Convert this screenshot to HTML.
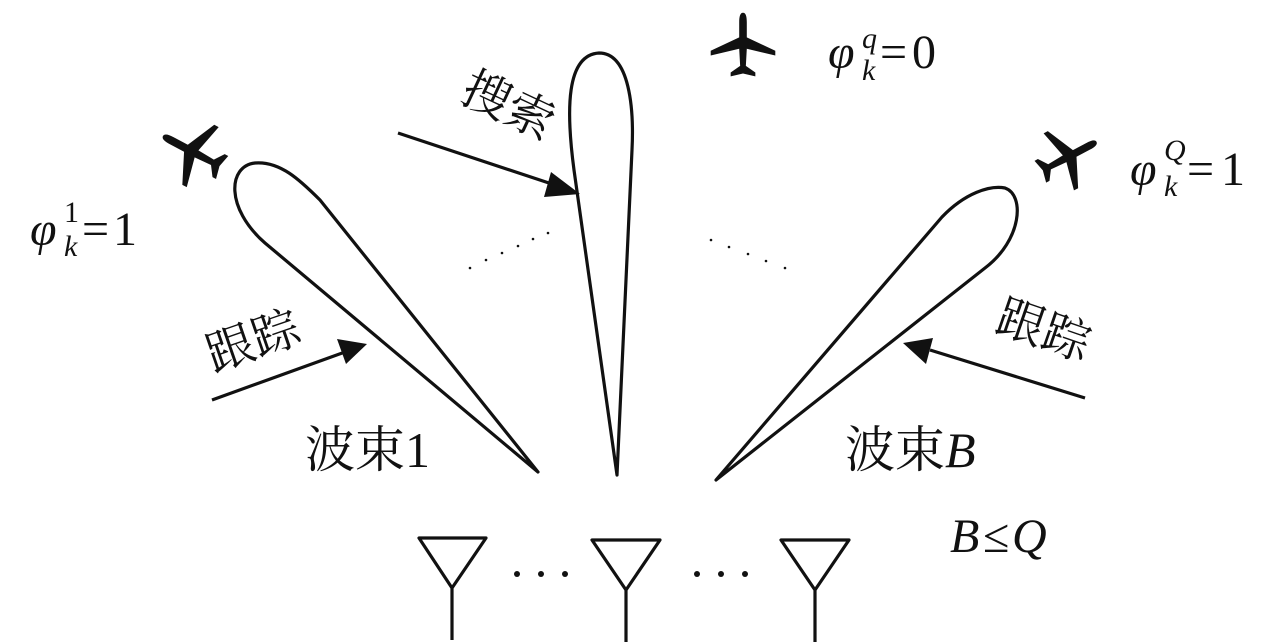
<!DOCTYPE html>
<html><head><meta charset="utf-8"><style>
body{margin:0;background:#fff;width:1280px;height:644px;overflow:hidden}
svg{display:block}
text{font-family:"Liberation Serif","Noto Serif CJK SC",serif;fill:#111}
.cj{font-family:"Liberation Serif","Noto Serif CJK SC","Noto Sans CJK SC",serif}
</style></head><body>
<svg width="1280" height="644" viewBox="0 0 1280 644" xmlns="http://www.w3.org/2000/svg">
<defs>
<g id="plane">
<path d="M0,-34 C3,-34 4,-30 4,-24 L4,-8 L34,6 L34,11 L4,4 L3,22 L13,29 L13,33 L0,30 L-13,33 L-13,29 L-3,22 L-4,4 L-34,11 L-34,6 L-4,-8 L-4,-24 C-4,-30 -3,-34 0,-34 Z" fill="#111"/>
</g>
</defs>
<g fill="none" stroke="#111" stroke-width="3.2" stroke-linejoin="round">
<path d="M538,472 L265,243 C225,208 228,166 255,163 C280,161 300,180 320,200 Z"/>
<path d="M617,475 L574,170 C566,110 566,55 599,53 C630,53 634,110 632,150 Z"/>
<path d="M716,480 L942,217 C965,193 990,185 1005,188 C1025,195 1022,240 985,268 Z"/>
<path d="M419,538 L486,538 L452,588 Z M452,588 L452,640"/>
<path d="M592,540 L660,540 L626,590 Z M626,590 L626,642"/>
<path d="M781,540 L849,540 L815,590 Z M815,590 L815,642"/>
<path d="M212,400 L345,352"/>
<path d="M398,133 L558,186"/>
<path d="M1085,398 L930,350"/>
</g>
<g fill="#111">
<path d="M367,344 L337,339 L346,364 Z"/>
<path d="M580,194 L551,172 L544,197 Z"/>
<path d="M903,343 L933,338 L926,364 Z"/>
<circle cx="517" cy="574" r="3"/><circle cx="541" cy="574" r="3"/><circle cx="565" cy="574" r="3"/>
<circle cx="697" cy="574" r="3"/><circle cx="721" cy="574" r="3"/><circle cx="745" cy="574" r="3"/>
<circle cx="470" cy="268" r="1.3"/><circle cx="486" cy="260" r="1.3"/><circle cx="502" cy="253" r="1.3"/><circle cx="518" cy="246" r="1.3"/><circle cx="533" cy="239" r="1.3"/><circle cx="548" cy="233" r="1.3"/>
<circle cx="711" cy="240" r="1.3"/><circle cx="729" cy="247" r="1.3"/><circle cx="748" cy="254" r="1.3"/><circle cx="766" cy="261" r="1.3"/><circle cx="785" cy="268" r="1.3"/>
</g>
<use href="#plane" transform="translate(193,152) rotate(-62)"/>
<use href="#plane" transform="translate(743,45) scale(0.95)"/>
<use href="#plane" transform="translate(1068,157) rotate(62) scale(0.95)"/>
<g font-size="48">
<text x="30" y="245" font-style="italic">φ</text><text x="64" y="222" font-size="30">1</text><text x="64" y="256" font-size="30" font-style="italic">k</text><text x="82" y="245" textLength="55">=1</text>
<text x="828" y="68" font-style="italic">φ</text><text x="862" y="48" font-size="30" font-style="italic">q</text><text x="862" y="80" font-size="30" font-style="italic">k</text><text x="880" y="68" textLength="56">=0</text>
<text x="1130" y="185" font-style="italic">φ</text><text x="1164" y="160" font-size="30" font-style="italic">Q</text><text x="1164" y="196" font-size="30" font-style="italic">k</text><text x="1187" y="185" textLength="58">=1</text>
<text x="950" y="552" font-style="italic">B</text><text x="983" y="552">≤</text><text x="1012" y="552" font-style="italic">Q</text>
<text class="cj" x="305" y="467" font-size="50">波束1</text>
<text class="cj" x="845" y="467" font-size="50">波束<tspan font-style="italic">B</tspan></text>
<text class="cj" transform="translate(213,372) rotate(-19)">跟踪</text>
<text class="cj" transform="translate(993,330) rotate(19)">跟踪</text>
<text class="cj" transform="translate(458,100) rotate(25)">搜索</text>
</g>
</svg>
</body></html>
